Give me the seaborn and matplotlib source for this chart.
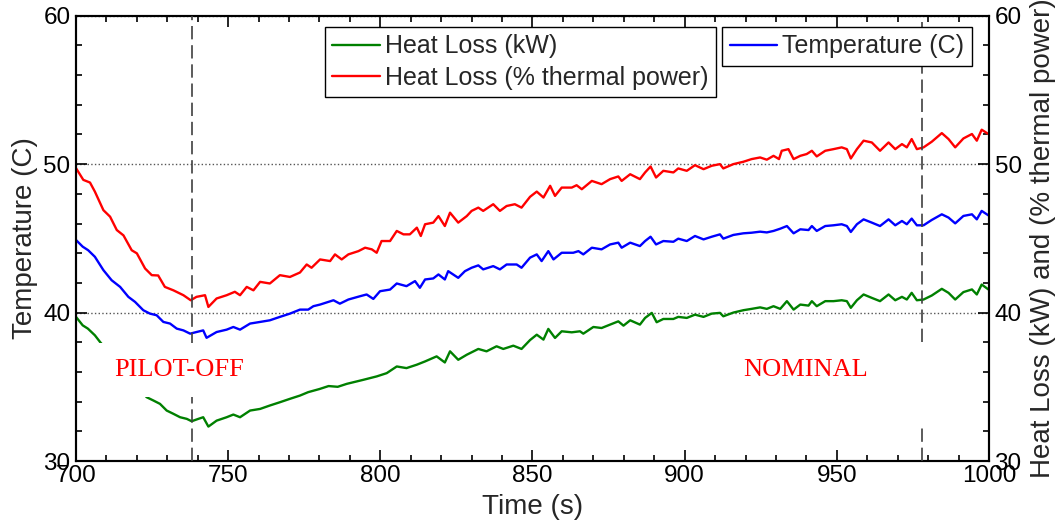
import matplotlib
matplotlib.use("Agg")
import matplotlib.pyplot as plt
from matplotlib.ticker import MultipleLocator
import seaborn as sns

# data (time in s)
red_t = [700.0, 702.4, 704.6, 706.2, 709.0, 711.2, 713.4, 715.6, 718.3, 720.0,
         722.7, 724.9, 727.0, 729.2, 732.0, 735.3, 737.7, 739.6, 742.4, 743.5,
         746.2, 749.5, 752.2, 753.9, 756.1, 758.3, 760.5, 763.7, 767.0, 770.3,
         773.6, 775.8, 777.4, 780.2, 783.5, 785.1, 787.3, 789.5, 792.8, 795.0,
         797.2, 798.8, 800.4, 803.2, 805.4, 807.6, 809.7, 812.0, 813.3, 814.7,
         817.4, 819.1, 821.2, 822.9, 825.6, 828.4, 830.0, 832.2, 833.8, 837.1,
         839.3, 841.5, 844.2, 846.4, 849.2, 851.4, 853.6, 855.8, 857.4, 859.6,
         862.9, 864.5, 866.2, 869.5, 872.7, 875.5, 878.2, 879.3, 882.1, 885.3,
         887.0, 888.8, 890.6, 893.0, 896.3, 897.9, 900.7, 903.4, 906.2, 908.9,
         911.6, 912.7, 916.0, 919.3, 922.0, 924.8, 927.0, 929.2, 931.0, 931.9,
         934.1, 935.8, 938.0, 940.1, 941.8, 943.4, 946.2, 948.9, 951.6, 953.3,
         954.6, 956.6, 958.8, 961.5, 964.2, 967.0, 969.2, 971.4, 973.0, 974.6,
         976.3, 978.5, 981.2, 984.5, 986.7, 988.9, 991.6, 994.4, 996.0, 997.6,
         999.8]
red_v = [49.73, 48.94, 48.76, 48.15, 46.90, 46.46, 45.56, 45.20, 44.20, 43.99,
         42.97, 42.52, 42.50, 41.73, 41.50, 41.17, 40.83, 41.06, 41.17, 40.38,
         40.95, 41.17, 41.40, 41.17, 41.73, 41.50, 42.07, 41.96, 42.52, 42.40,
         42.70, 43.24, 43.02, 43.58, 43.47, 43.92, 43.58, 43.92, 44.14, 44.37,
         44.26, 44.03, 44.82, 44.82, 45.50, 45.27, 45.27, 45.72, 45.16, 45.95,
         46.06, 46.50, 45.83, 46.73, 46.06, 46.50, 46.85, 47.07, 46.85, 47.30,
         46.85, 47.18, 47.30, 47.07, 47.80, 48.15, 47.75, 48.54, 47.86, 48.42,
         48.42, 48.58, 48.31, 48.87, 48.65, 48.99, 49.17, 48.87, 49.32, 48.99,
         49.44, 49.84, 49.10, 49.55, 49.44, 49.71, 49.55, 49.93, 49.66, 49.89,
         50.00, 49.71, 50.00, 50.16, 50.34, 50.45, 50.30, 50.56, 50.34, 50.90,
         51.01, 50.34, 50.56, 50.68, 50.90, 50.52, 50.90, 51.01, 51.13, 51.01,
         50.38, 51.01, 51.58, 51.46, 50.90, 51.46, 51.01, 51.35, 51.13, 51.69,
         51.01, 51.13, 51.51, 52.09, 51.69, 51.13, 51.73, 52.03, 51.58, 52.32,
         52.03]

blue_t = [700.0, 702.2, 704.0, 706.2, 709.0, 711.7, 714.5, 717.2, 719.4, 722.1,
          724.3, 726.5, 728.7, 730.9, 733.1, 735.3, 737.5, 739.6, 741.8, 742.9,
          746.2, 749.5, 751.7, 753.9, 757.2, 760.5, 763.7, 767.0, 770.3, 773.6,
          776.3, 778.0, 780.2, 784.6, 786.7, 789.5, 793.3, 795.5, 797.7, 799.9,
          803.2, 805.4, 808.6, 811.4, 813.0, 814.7, 817.4, 819.1, 821.2, 822.3,
          825.6, 827.8, 830.0, 832.2, 833.8, 837.1, 839.3, 841.5, 844.8, 846.4,
          849.2, 851.4, 853.0, 855.2, 856.9, 859.6, 863.4, 865.1, 866.7, 869.5,
          872.7, 875.5, 878.2, 879.3, 882.1, 885.3, 887.0, 888.8, 890.6, 893.0,
          896.3, 897.9, 900.7, 903.4, 906.2, 908.9, 911.6, 912.7, 916.0, 919.3,
          922.0, 924.8, 927.0, 929.2, 931.4, 933.6, 935.8, 938.0, 940.7, 941.8,
          943.4, 946.2, 948.9, 951.6, 953.3, 954.6, 956.6, 958.8, 961.5, 964.2,
          967.0, 969.2, 971.4, 973.0, 974.6, 976.3, 978.5, 981.2, 984.5, 986.7,
          988.9, 991.6, 994.4, 996.0, 997.6, 999.8]
blue_v = [44.89, 44.44, 44.20, 43.76, 42.86, 42.18, 41.73, 41.06, 40.72, 40.16,
          39.93, 39.82, 39.37, 39.26, 38.92, 38.80, 38.58, 38.69, 38.80, 38.30,
          38.69, 38.85, 39.03, 38.85, 39.26, 39.37, 39.48, 39.71, 39.93, 40.20,
          40.20, 40.43, 40.54, 40.83, 40.60, 40.88, 41.10, 41.22, 40.92, 41.44,
          41.55, 41.96, 41.78, 42.12, 41.67, 42.23, 42.30, 42.57, 42.23, 42.79,
          42.34, 42.79, 43.02, 43.18, 42.91, 43.13, 42.91, 43.24, 43.24, 43.02,
          43.70, 43.92, 43.47, 44.14, 43.58, 44.03, 44.03, 44.14, 43.92, 44.37,
          44.26, 44.59, 44.71, 44.37, 44.71, 44.48, 44.82, 45.11, 44.59, 44.82,
          44.77, 44.98, 44.82, 45.16, 44.93, 45.11, 45.27, 44.98, 45.23, 45.34,
          45.38, 45.45, 45.40, 45.50, 45.65, 45.83, 45.34, 45.61, 45.56, 45.83,
          45.50, 45.83, 45.88, 45.95, 45.83, 45.43, 45.95, 46.28, 46.06, 45.83,
          46.28, 45.88, 46.17, 45.95, 46.33, 45.88, 45.88, 46.24, 46.62, 46.40,
          46.01, 46.51, 46.62, 46.28, 46.85, 46.55]

green_t = [700.0, 702.2, 703.9, 706.2, 707.9, 721.0, 723.2, 725.4, 727.6, 729.8,
           732.0, 734.2, 736.4, 738.0, 740.2, 741.8, 743.5, 746.2, 749.5, 751.7,
           753.9, 757.2, 760.5, 763.7, 767.0, 770.3, 773.6, 776.3, 780.0, 783.0,
           786.0, 789.0, 792.0, 794.4, 798.8, 802.1, 805.4, 808.6, 812.0, 814.7,
           818.5, 821.2, 822.9, 825.6, 828.4, 832.2, 834.9, 838.2, 840.4, 843.7,
           846.4, 849.2, 851.4, 853.6, 855.2, 857.4, 859.6, 862.9, 865.6, 866.7,
           870.0, 872.7, 875.5, 878.2, 879.9, 882.1, 885.3, 887.0, 889.2, 890.8,
           893.0, 896.3, 897.9, 900.7, 903.4, 906.2, 908.9, 911.6, 912.7, 916.0,
           919.3, 922.0, 924.8, 927.0, 929.2, 931.4, 933.6, 935.8, 938.0, 940.7,
           941.8, 943.4, 946.2, 948.9, 951.6, 953.3, 954.6, 956.6, 958.8, 961.5,
           964.2, 967.0, 969.2, 971.4, 973.0, 974.6, 976.3, 978.5, 981.2, 984.5,
           986.7, 988.9, 991.6, 994.4, 996.0, 997.6, 999.8]
green_v = [39.71, 39.14, 38.92, 38.47, 38.02, 34.86, 34.30, 34.08, 33.85, 33.40,
           33.18, 32.95, 32.84, 32.68, 32.84, 32.95, 32.32, 32.72, 32.95, 33.13,
           32.95, 33.40, 33.51, 33.74, 33.96, 34.19, 34.41, 34.64, 34.85, 35.05,
           35.00, 35.20, 35.35, 35.47, 35.70, 35.92, 36.37, 36.26, 36.49, 36.71,
           37.05, 36.64, 37.39, 36.82, 37.16, 37.55, 37.39, 37.73, 37.55, 37.77,
           37.55, 38.15, 38.51, 38.18, 38.90, 38.29, 38.74, 38.67, 38.74, 38.58,
           39.03, 38.96, 39.19, 39.41, 39.12, 39.48, 39.19, 39.64, 39.98, 39.35,
           39.57, 39.57, 39.71, 39.64, 39.86, 39.71, 39.93, 39.98, 39.75, 40.00,
           40.16, 40.25, 40.35, 40.25, 40.43, 40.25, 40.77, 40.20, 40.54, 40.47,
           40.77, 40.43, 40.77, 40.77, 40.83, 40.77, 40.32, 40.83, 41.22, 40.99,
           40.77, 41.22, 40.83, 41.06, 40.88, 41.33, 40.83, 40.88, 41.15, 41.60,
           41.33, 40.88, 41.38, 41.56, 41.22, 41.89, 41.56]

event_times = [738, 978]
event_labels = ["PILOT-OFF", "NOMINAL"]
event_label_x = [733.8, 939.9]
event_label_y = 35.72

sns.set_style("ticks")
plt.rcParams["font.family"] = ["Liberation Sans", "DejaVu Sans"]

fig = plt.figure(figsize=(10.6, 5.23), dpi=100)
ax = fig.add_axes([0.0717, 0.1185, 0.8613, 0.8515])
ax2 = ax.twinx()

sns.lineplot(x=blue_t, y=blue_v, ax=ax, color="#0000ff", lw=1.7, legend=False)
sns.lineplot(x=green_t, y=green_v, ax=ax2, color="#008000", lw=1.7, legend=False)
sns.lineplot(x=red_t, y=red_v, ax=ax2, color="#ff0000", lw=1.7, legend=False)
h_blue = ax.lines[0]
h_green, h_red = ax2.lines[0], ax2.lines[1]

for a in (ax, ax2):
    a.set_xlim(700, 1000)
    a.set_ylim(30, 60)
    a.yaxis.set_major_locator(MultipleLocator(10))
    a.yaxis.set_minor_locator(MultipleLocator(2))
    for s in a.spines.values():
        s.set_linewidth(1.5)
        s.set_color("black")
ax.xaxis.set_major_locator(MultipleLocator(50))
ax.xaxis.set_minor_locator(MultipleLocator(10))

ax.tick_params(which="both", direction="in", top=True, right=False, width=1.2,
               labelsize=17.5, colors="black")
ax.tick_params(which="major", length=8)
ax.tick_params(which="minor", length=4)
ax.tick_params(axis="y", pad=4)
ax.tick_params(axis="x", pad=3)
ax2.tick_params(which="both", direction="in", right=True, left=False, width=1.2,
                labelsize=17.5, pad=4, colors="black")
ax2.tick_params(which="major", length=8)
ax2.tick_params(which="minor", length=4)

ax.yaxis.grid(True, which="major", linestyle=":", color="#555555", lw=1.0)

ax.set_xlabel("Time (s)", fontsize=20, labelpad=5)
ax.set_ylabel("Temperature (C)", fontsize=20, labelpad=4)
ax2.set_ylabel("Heat Loss (kW) and (% thermal power)", fontsize=20, labelpad=6)

# event markers
dash = (0, (8, 3.5))
ax2.axvline(event_times[0], color="#404040", ls=dash, lw=1.2, zorder=3)
ax2.axvline(event_times[1], ymin=0, ymax=0.085, color="#404040", ls=dash, lw=1.2, zorder=3)
ax2.axvline(event_times[1], ymin=0.268, ymax=1, color="#404040", ls=dash, lw=1.2, zorder=3)

for xl, txt in zip(event_label_x, event_labels):
    ax2.text(xl, event_label_y, txt, color="red", fontsize=19,
             family=["Liberation Serif", "DejaVu Serif"], ha="center", va="baseline",
             bbox=dict(boxstyle="square,pad=0.6", fc="white", ec="none"), zorder=5)

leg_kw = dict(loc="upper right", borderaxespad=0, frameon=True, fancybox=False,
              edgecolor="black", framealpha=1, fontsize=18, handlelength=1.9,
              handletextpad=0.2, borderpad=0.3, labelspacing=0.3)
leg1 = ax2.legend([h_green, h_red], ["Heat Loss (kW)", "Heat Loss (% thermal power)"],
                  bbox_to_anchor=(0.7006, 0.975), **leg_kw)
leg1.get_frame().set_linewidth(1.0)
ax2.add_artist(leg1)
leg2 = ax2.legend([h_blue], ["Temperature (C)"], bbox_to_anchor=(0.981, 0.975), **leg_kw)
leg2.get_frame().set_linewidth(1.0)

fig.savefig("out.png", dpi=100)
